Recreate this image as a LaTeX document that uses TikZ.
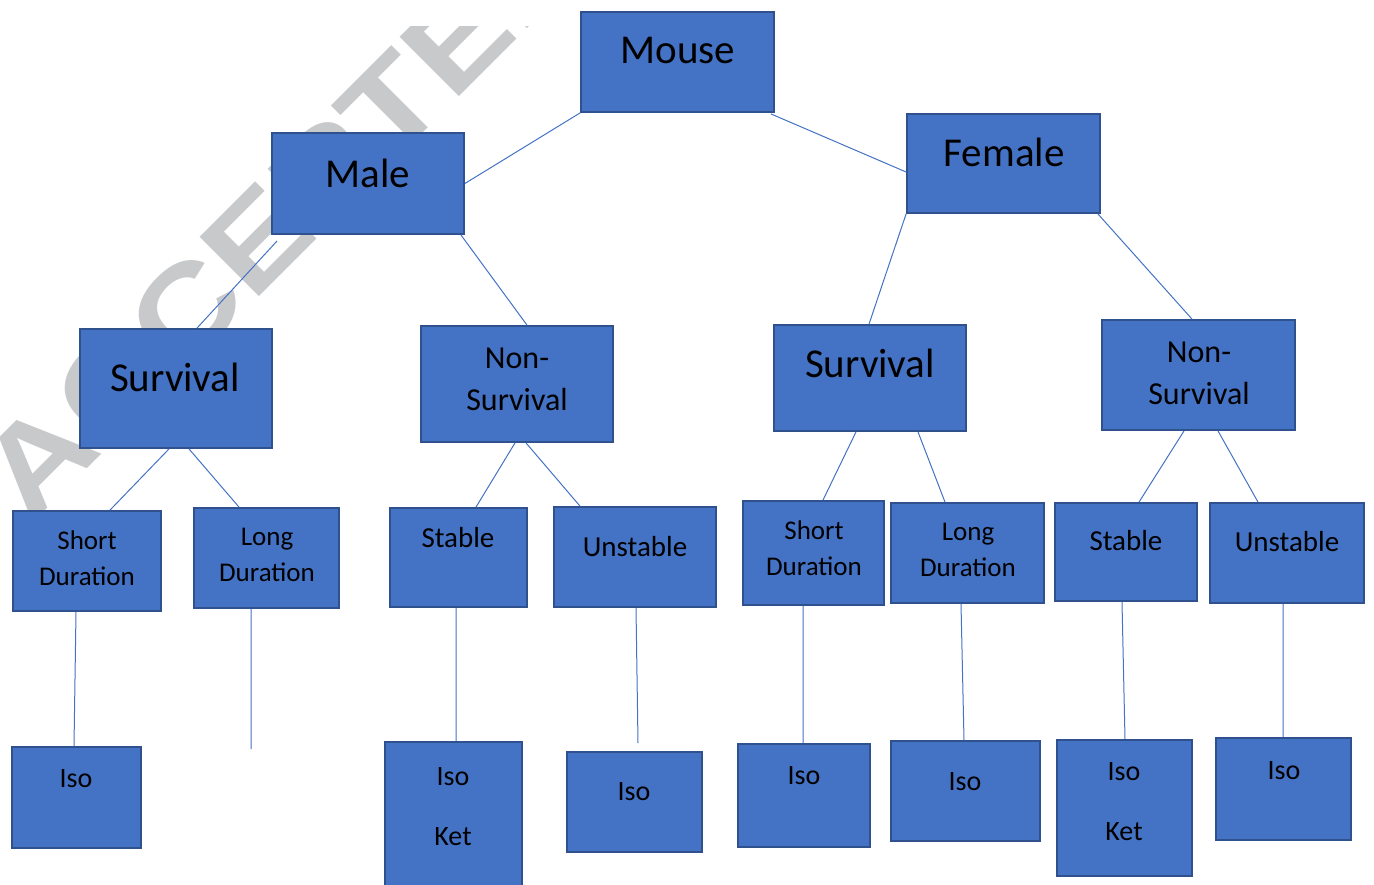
\documentclass[tikz,border=0pt]{standalone}
\usepackage{fontspec}
\setmainfont{Carlito}
\newfontfamily\markfont{Liberation Sans}
\usepackage{graphicx}
\usepackage{xcolor}
\usepackage{tikz}
\definecolor{boxfill}{RGB}{68,114,196}
\definecolor{boxline}{RGB}{47,82,143}
\definecolor{markgray}{RGB}{200,201,203}

\begin{document}
\begin{tikzpicture}[x=1pt,y=-1pt,
  box/.style={draw=boxline,line width=1.8pt,fill=boxfill,inner sep=0pt},
  big/.style={font=\fontsize{41}{49}\selectfont,anchor=base,inner sep=0pt},
  mid/.style={font=\fontsize{32}{42}\selectfont,anchor=base,inner sep=0pt,align=center},
  small/.style={font=\fontsize{27}{36}\selectfont,anchor=base,inner sep=0pt,align=center},
  label/.style={font=\fontsize{29}{36}\selectfont,anchor=base,inner sep=0pt},
  iso/.style={font=\fontsize{28}{60}\selectfont,anchor=base,inner sep=0pt,align=center},
  link/.style={draw=boxfill,line width=1pt}]
  \useasboundingbox (0,0) rectangle (1374,884);

  % watermark
  \begin{scope}
    \clip (0,26) rectangle (1374,884);
    \node[anchor=base west,rotate=45,inner sep=0pt,text=markgray,
      font=\markfont\bfseries\fontsize{122}{122}\selectfont] (mark) at (30,526)
      {\scalebox{1.19}[1]{ACCEPTED}};
  \end{scope}

  % level 0 and 1
  \node[box,minimum width=193,minimum height=100] (mouse) at (677.5,62) {};
  \node[box,minimum width=192,minimum height=101] (male) at (368,183.5) {};
  \node[box,minimum width=193,minimum height=99] (female) at (1003.5,163.5) {};

  % level 2
  \node[box,minimum width=192,minimum height=119] (survl) at (176,388.5) {};
  \node[box,minimum width=192,minimum height=116] (nonl) at (517,384) {};
  \node[box,minimum width=192,minimum height=106] (survr) at (870,378) {};
  \node[box,minimum width=193,minimum height=110] (nonr) at (1198.5,375) {};

  % level 3
  \node[box,minimum width=148,minimum height=100] (shortl) at (87,561) {};
  \node[box,minimum width=145,minimum height=100] (longl) at (266.5,558) {};
  \node[box,minimum width=137,minimum height=99] (stablel) at (458.5,557.5) {};
  \node[box,minimum width=162,minimum height=100] (unstablel) at (635,557) {};
  \node[box,minimum width=141,minimum height=104] (shortr) at (813.5,553) {};
  \node[box,minimum width=153,minimum height=100] (longr) at (967.5,553) {};
  \node[box,minimum width=142,minimum height=98] (stabler) at (1126,552) {};
  \node[box,minimum width=154,minimum height=100] (unstabler) at (1287,553) {};

  % level 4
  \node[box,minimum width=129,minimum height=101] (iso1) at (76.5,797.5) {};
  \node[box,minimum width=137,minimum height=150] (isoket1) at (453.5,817) {};
  \node[box,minimum width=135,minimum height=100] (iso2) at (634.5,802) {};
  \node[box,minimum width=132,minimum height=103] (iso3) at (804,795.5) {};
  \node[box,minimum width=149,minimum height=100] (iso4) at (965.5,791) {};
  \node[box,minimum width=135,minimum height=136] (isoket2) at (1124.5,808) {};
  \node[box,minimum width=135,minimum height=102] (iso5) at (1283.5,789) {};

  % texts (base = last line)
  \node[big] (mouse-t) at (678,63) {Mouse};
  \node[big] (male-t) at (368,187) {Male};
  \node[big] (female-t) at (1004,166) {Female};
  \node[big] (survl-t) at (175,391) {Survival};
  \node[big] (survr-t) at (870,377) {Survival};
  \node[mid] (nonl-t) at (517,410) {Non-\\Survival};
  \node[mid] (nonr-t) at (1199,404) {Non-\\Survival};
  \node[small] (shortl-t) at (87,585) {Short\\Duration};
  \node[small] (longl-t) at (267,581) {Long\\Duration};
  \node[small] (shortr-t) at (814,575) {Short\\Duration};
  \node[small] (longr-t) at (968,576) {Long\\Duration};
  \node[label] (stablel-t) at (458,547) {Stable};
  \node[label] (unstablel-t) at (635,556) {Unstable};
  \node[label] (stabler-t) at (1126,550) {Stable};
  \node[label] (unstabler-t) at (1287,551) {Unstable};
  \node[iso] (iso1-t) at (76,787) {Iso};
  \node[iso] (isoket1-t) at (453,845) {Iso\\Ket};
  \node[iso] (iso2-t) at (634,800) {Iso};
  \node[iso] (iso3-t) at (804,784) {Iso};
  \node[iso] (iso4-t) at (965,790) {Iso};
  \node[iso] (isoket2-t) at (1124,840) {Iso\\Ket};
  \node[iso] (iso5-t) at (1284,779) {Iso};

  % free ends
  \coordinate (longl-end) at (251,749);
  \coordinate (unstablel-end) at (638,743);

  % connectors
  \path[link]
    (mouse.south west) -- (male.east)
    ([xshift=-4pt,yshift=-1pt]mouse.south east) -- ([yshift=-8.5pt]female.west)
    ([xshift=6pt,yshift=-6pt]male.south west) -- ([xshift=21pt]survl.north)
    ([xshift=-4pt]male.south east) -- ([xshift=10pt]nonl.north)
    (female.south west) -- ([xshift=-1pt]survr.north)
    ([xshift=-3pt]female.south east) -- ([xshift=-6.5pt]nonr.north)
    ([xshift=-7pt]survl.south) -- ([xshift=23pt]shortl.north)
    ([xshift=13pt]survl.south) -- ([xshift=-27.5pt]longl.north)
    ([xshift=-2pt]nonl.south) -- ([xshift=17.5pt]stablel.north)
    ([xshift=9pt]nonl.south) -- ([xshift=-55pt]unstablel.north)
    ([xshift=-14pt]survr.south) -- ([xshift=9.5pt]shortr.north)
    ([xshift=48pt]survr.south) -- ([xshift=-22.5pt]longr.north)
    ([xshift=-14.5pt]nonr.south) -- ([xshift=13pt]stabler.north)
    ([xshift=19.5pt]nonr.south) -- ([xshift=-29pt]unstabler.north)
    ([xshift=-11pt]shortl.south) -- ([xshift=-2.5pt]iso1.north)
    ([xshift=-15.5pt]longl.south) -- (longl-end)
    ([xshift=-2.5pt]stablel.south) -- ([xshift=2.5pt]isoket1.north)
    ([xshift=1pt]unstablel.south) -- (unstablel-end)
    ([xshift=-10.5pt]shortr.south) -- ([xshift=-1pt]iso3.north)
    ([xshift=-6.5pt]longr.south) -- ([xshift=-1.5pt]iso4.north)
    ([xshift=-4pt]stabler.south) -- ([xshift=0.5pt]isoket2.north)
    ([xshift=-4pt]unstabler.south) -- ([xshift=-0.5pt]iso5.north);
\end{tikzpicture}
\end{document}
